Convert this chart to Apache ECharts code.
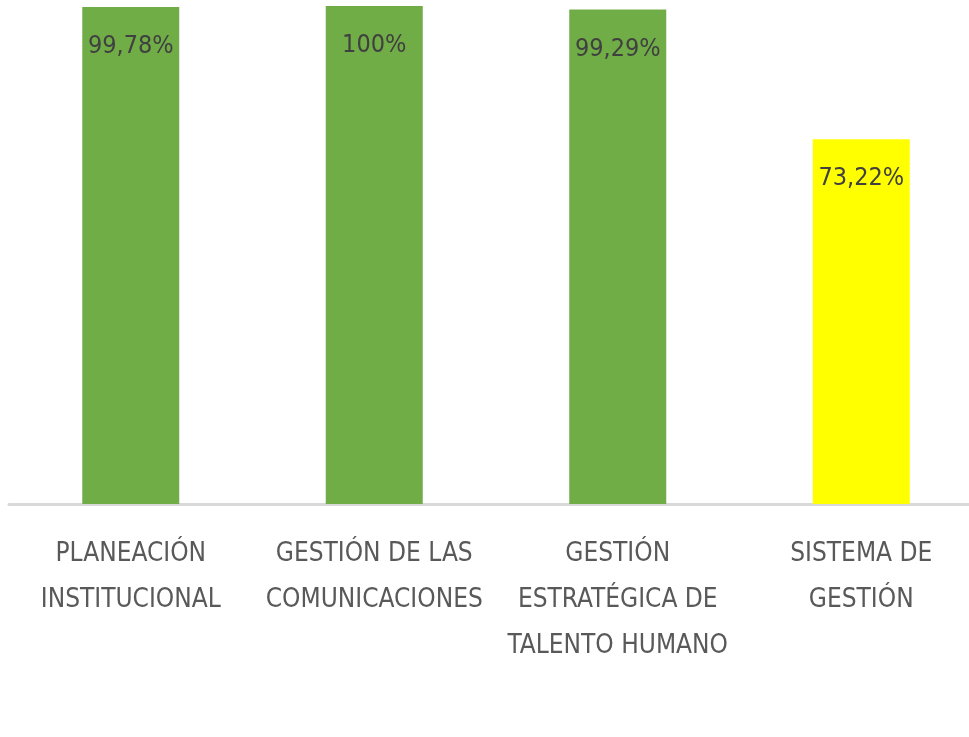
<!DOCTYPE html>
<html>
<head>
<meta charset="utf-8">
<script src="https://cdn.jsdelivr.net/npm/echarts@6/dist/echarts.min.js"></script>
<style>
  html, body { margin: 0; padding: 0; background: #fff; overflow: hidden; }
  #chart { width: 983px; height: 737px; }
</style>
</head>
<body>
<div id="chart"></div>
<script>
// ── 資料 ─────────────────────────────────────
const categories = [
  'PLANEACIÓN\nINSTITUCIONAL',
  'GESTIÓN DE LAS\nCOMUNICACIONES',
  'GESTIÓN\nESTRATÉGICA DE\nTALENTO HUMANO',
  'SISTEMA DE\nGESTIÓN'
];
const values   = [99.78, 100, 99.29, 73.22];
const labels   = ['99,78%', '100%', '99,29%', '73,22%'];
const barColors = ['#70AD47', '#70AD47', '#70AD47', '#FFFF00'];

const FONT = '"DejaVu Sans Condensed", "Liberation Sans", sans-serif';

const chart = echarts.init(document.getElementById('chart'));

chart.setOption({
  backgroundColor: '#ffffff',
  animation: false,
  grid: { left: 9, right: 0, top: 6, bottom: 233, containLabel: false },
  xAxis: {
    type: 'category',
    data: categories,
    axisTick: { show: false },
    axisLine: { lineStyle: { color: '#d9d9d9', width: 3 } },
    axisLabel: {
      interval: 0,
      margin: 27,
      color: '#595959',
      fontFamily: FONT,
      fontSize: 26,
      lineHeight: 46
    }
  },
  yAxis: {
    type: 'value',
    min: 0,
    max: 100,
    show: false,
    splitLine: { show: false }
  },
  series: [{
    type: 'bar',
    barWidth: 97,
    data: values.map((v, i) => ({
      value: v,
      itemStyle: { color: barColors[i] }
    })),
    label: {
      show: true,
      position: 'insideTop',
      distance: 27,
      color: '#404040',
      fontFamily: FONT,
      fontSize: 25,
      formatter: p => labels[p.dataIndex]
    }
  }]
});
</script>
</body>
</html>
